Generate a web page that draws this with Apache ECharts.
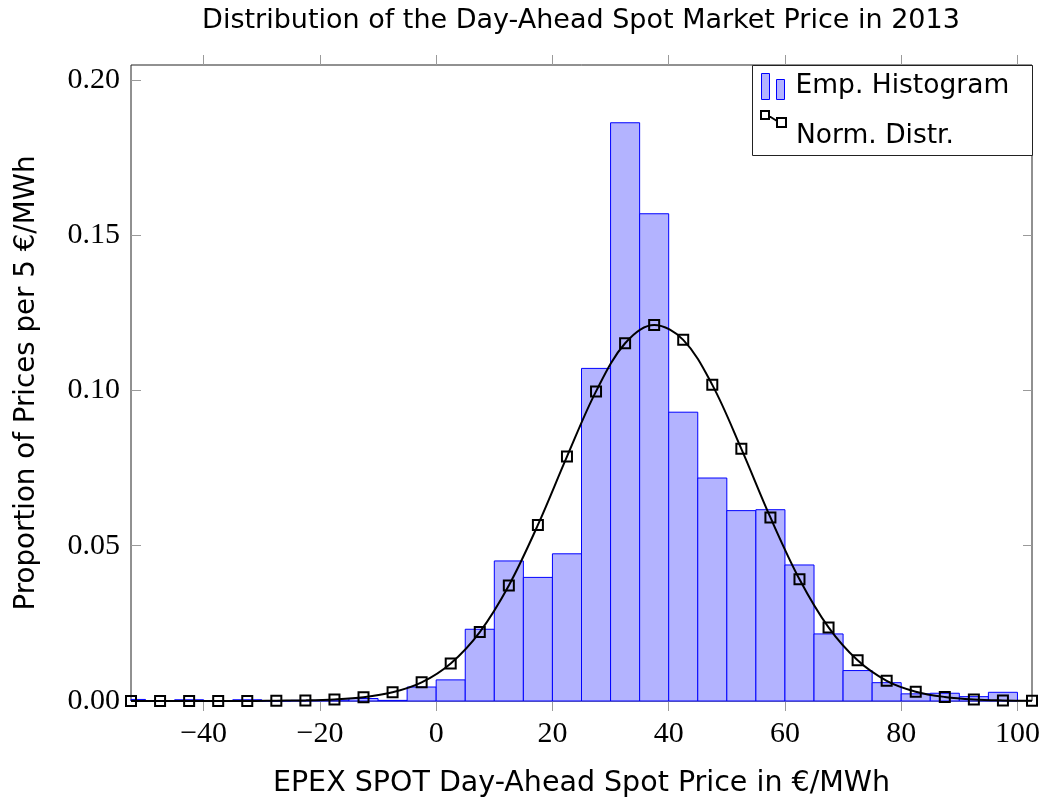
<!DOCTYPE html>
<html>
<head>
<meta charset="utf-8">
<script src="https://cdn.jsdelivr.net/npm/echarts@6/dist/echarts.min.js"></script>
<style>
html,body{margin:0;padding:0;background:#fff;}
#chart{width:1042px;height:801px;}
</style>
</head>
<body>
<div id="chart"></div>
<script>
// Histogram bins: left edge of each 5 €/MWh bin and the proportion of prices in it
const binLeftEdges = [-55,-50,-45,-40,-35,-30,-25,-20,-15,-10,-5,0,5,10,15,20,25,30,35,40,45,50,55,60,65,70,75,80,85,90,95];
const binWidth = 5;
const histProportions = [0.0005,0,0.0004,0,0.0004,0,0.0002,0.0003,0.0008,0.0002,0.0045,0.0068,0.0231,0.0451,0.0398,0.0474,0.1071,0.1862,0.1569,0.0930,0.0718,0.0613,0.0616,0.0438,0.0216,0.0098,0.0059,0.0023,0.0025,0.0014,0.0028];

// Normal distribution fit, evaluated at bin centres
const normX = [-52.5,-47.5,-42.5,-37.5,-32.5,-27.5,-22.5,-17.5,-12.5,-7.5,-2.5,2.5,7.5,12.5,17.5,22.5,27.5,32.5,37.5,42.5,47.5,52.5,57.5,62.5,67.5,72.5,77.5,82.5,87.5,92.5,97.5,102.5];
const normY = [0.0000,0.0000,0.0000,0.0000,0.0000,0.0001,0.0002,0.0005,0.0012,0.0028,0.0060,0.0121,0.0222,0.0372,0.0567,0.0787,0.0997,0.1152,0.1211,0.1163,0.1018,0.0812,0.0591,0.0392,0.0237,0.0131,0.0065,0.0030,0.0013,0.0005,0.0002,0.0001];

const xTickValues = [-40,-20,0,20,40,60,80,100];
const yTickInterval = 0.05;

const histData = binLeftEdges.map((x0, i) => [x0, x0 + binWidth, histProportions[i]]);
const normData = normX.map((x, i) => [x, normY[i]]);

const chart = echarts.init(document.getElementById('chart'), null, {renderer: 'canvas'});

const sansFont = 'DejaVu Sans';
const serifFont = 'Liberation Serif';
const tickColor = '#9a9a9a';

const legendText = {fontFamily: sansFont, fontSize: 26.5, color: '#000'};

const option = {
  animation: false,
  backgroundColor: '#fff',
  title: {
    text: 'Distribution of the Day-Ahead Spot Market Price in 2013',
    left: 581,
    textAlign: 'center',
    top: 7,
    padding: 0,
    textStyle: {fontFamily: sansFont, fontSize: 27, fontWeight: 'normal', color: '#000'}
  },
  grid: {
    left: 131, right: 10, top: 65, bottom: 100,
    show: true, borderColor: '#222', borderWidth: 1,
    outerBoundsMode: 'none'
  },
  graphic: [
    {
      type: 'rect', left: 752, top: 65, z: 100,
      shape: {width: 280, height: 90},
      style: {fill: '#fff', stroke: '#222', lineWidth: 1}
    }
  ],
  legend: [
    {
      left: 761, top: 73, z: 110,
      orient: 'vertical', padding: 0,
      itemWidth: 29, itemHeight: 26,
      selectedMode: false,
      textStyle: legendText,
      data: [
        {name: 'Emp. Histogram',
         icon: 'path://M0,0h8v26h-8z M15,6h8v20h-8z M29,0',
         itemStyle: {color: '#b3b3ff', borderColor: '#0000ff', borderWidth: 1}}
      ]
    },
    {
      left: 760, top: 110, z: 110,
      orient: 'vertical', padding: 0,
      itemWidth: 30, itemHeight: 50,
      selectedMode: false,
      textStyle: legendText,
      data: [
        {name: 'Norm. Distr.',
         icon: 'path://M0,0h8v8h-8z M8,5L16,10 M16,7h9v9h-9z M30,50',
         itemStyle: {color: 'rgba(0,0,0,0)', borderColor: '#000', borderWidth: 2}}
      ]
    }
  ],
  xAxis: [
    {
      type: 'value', position: 'bottom',
      min: -52.5, max: 102.5,
      name: 'EPEX SPOT Day-Ahead Spot Price in €/MWh',
      nameLocation: 'middle', nameGap: 68,
      nameTextStyle: {fontFamily: sansFont, fontSize: 28.5, color: '#000'},
      axisLine: {show: false, onZero: false},
      axisTick: {show: true, inside: false, length: 10, customValues: xTickValues, lineStyle: {color: tickColor}},
      axisLabel: {
        show: true, customValues: xTickValues, margin: 18,
        fontFamily: serifFont, fontSize: 30, color: '#000',
        formatter: v => (v < 0 ? '\u2212' + Math.abs(v) : String(v))
      },
      splitLine: {show: false}
    },
    {
      type: 'value', position: 'top',
      min: -52.5, max: 102.5,
      axisLine: {show: false, onZero: false},
      axisTick: {show: true, inside: false, length: 10, customValues: xTickValues, lineStyle: {color: tickColor}},
      axisLabel: {show: false},
      splitLine: {show: false}
    }
  ],
  yAxis: [
    {
      type: 'value', position: 'left',
      min: 0, max: 0.2048, interval: yTickInterval,
      name: 'Proportion of Prices per 5 €/MWh',
      nameLocation: 'middle', nameGap: 90, nameRotate: 90,
      nameTextStyle: {fontFamily: sansFont, fontSize: 27.7, color: '#000'},
      axisLine: {show: false, onZero: false},
      axisTick: {show: true, inside: true, length: 10, lineStyle: {color: tickColor}},
      axisLabel: {
        margin: 11, fontFamily: serifFont, fontSize: 30, color: '#000',
        showMaxLabel: false,
        formatter: v => v.toFixed(2)
      },
      splitLine: {show: false}
    },
    {
      type: 'value', position: 'right',
      min: 0, max: 0.2048, interval: yTickInterval,
      axisLine: {show: false, onZero: false},
      axisTick: {show: true, inside: true, length: 9, lineStyle: {color: tickColor}},
      axisLabel: {show: false},
      splitLine: {show: false}
    }
  ],
  series: [
    {
      name: 'Emp. Histogram',
      type: 'custom',
      xAxisIndex: 0, yAxisIndex: 0,
      itemStyle: {color: '#b3b3ff', borderColor: '#0000ff', borderWidth: 1},
      encode: {x: [0, 1], y: 2},
      data: histData,
      z: 2,
      renderItem: function (params, api) {
        const x0 = api.value(0), x1 = api.value(1), y = api.value(2);
        const pTop = api.coord([x0, y]);
        const pBase = api.coord([x1, 0]);
        const cs = params.coordSys;
        const rect = echarts.graphic.clipRectByRect(
          {x: pTop[0], y: pTop[1], width: pBase[0] - pTop[0], height: pBase[1] - pTop[1]},
          {x: cs.x, y: cs.y, width: cs.width, height: cs.height}
        );
        if (!rect) return null;
        return {
          type: 'rect',
          shape: rect,
          style: {fill: '#b3b3ff', stroke: '#0000ff', lineWidth: 1}
        };
      }
    },
    {
      name: 'Norm. Distr.',
      type: 'line',
      xAxisIndex: 0, yAxisIndex: 0,
      data: normData,
      smooth: 0.35,
      clip: false,
      symbol: 'rect',
      symbolSize: 10,
      showAllSymbol: true,
      lineStyle: {color: '#000', width: 2},
      itemStyle: {color: 'rgba(0,0,0,0)', borderColor: '#000', borderWidth: 2},
      z: 5
    }
  ]
};

chart.setOption(option);
</script>
</body>
</html>
